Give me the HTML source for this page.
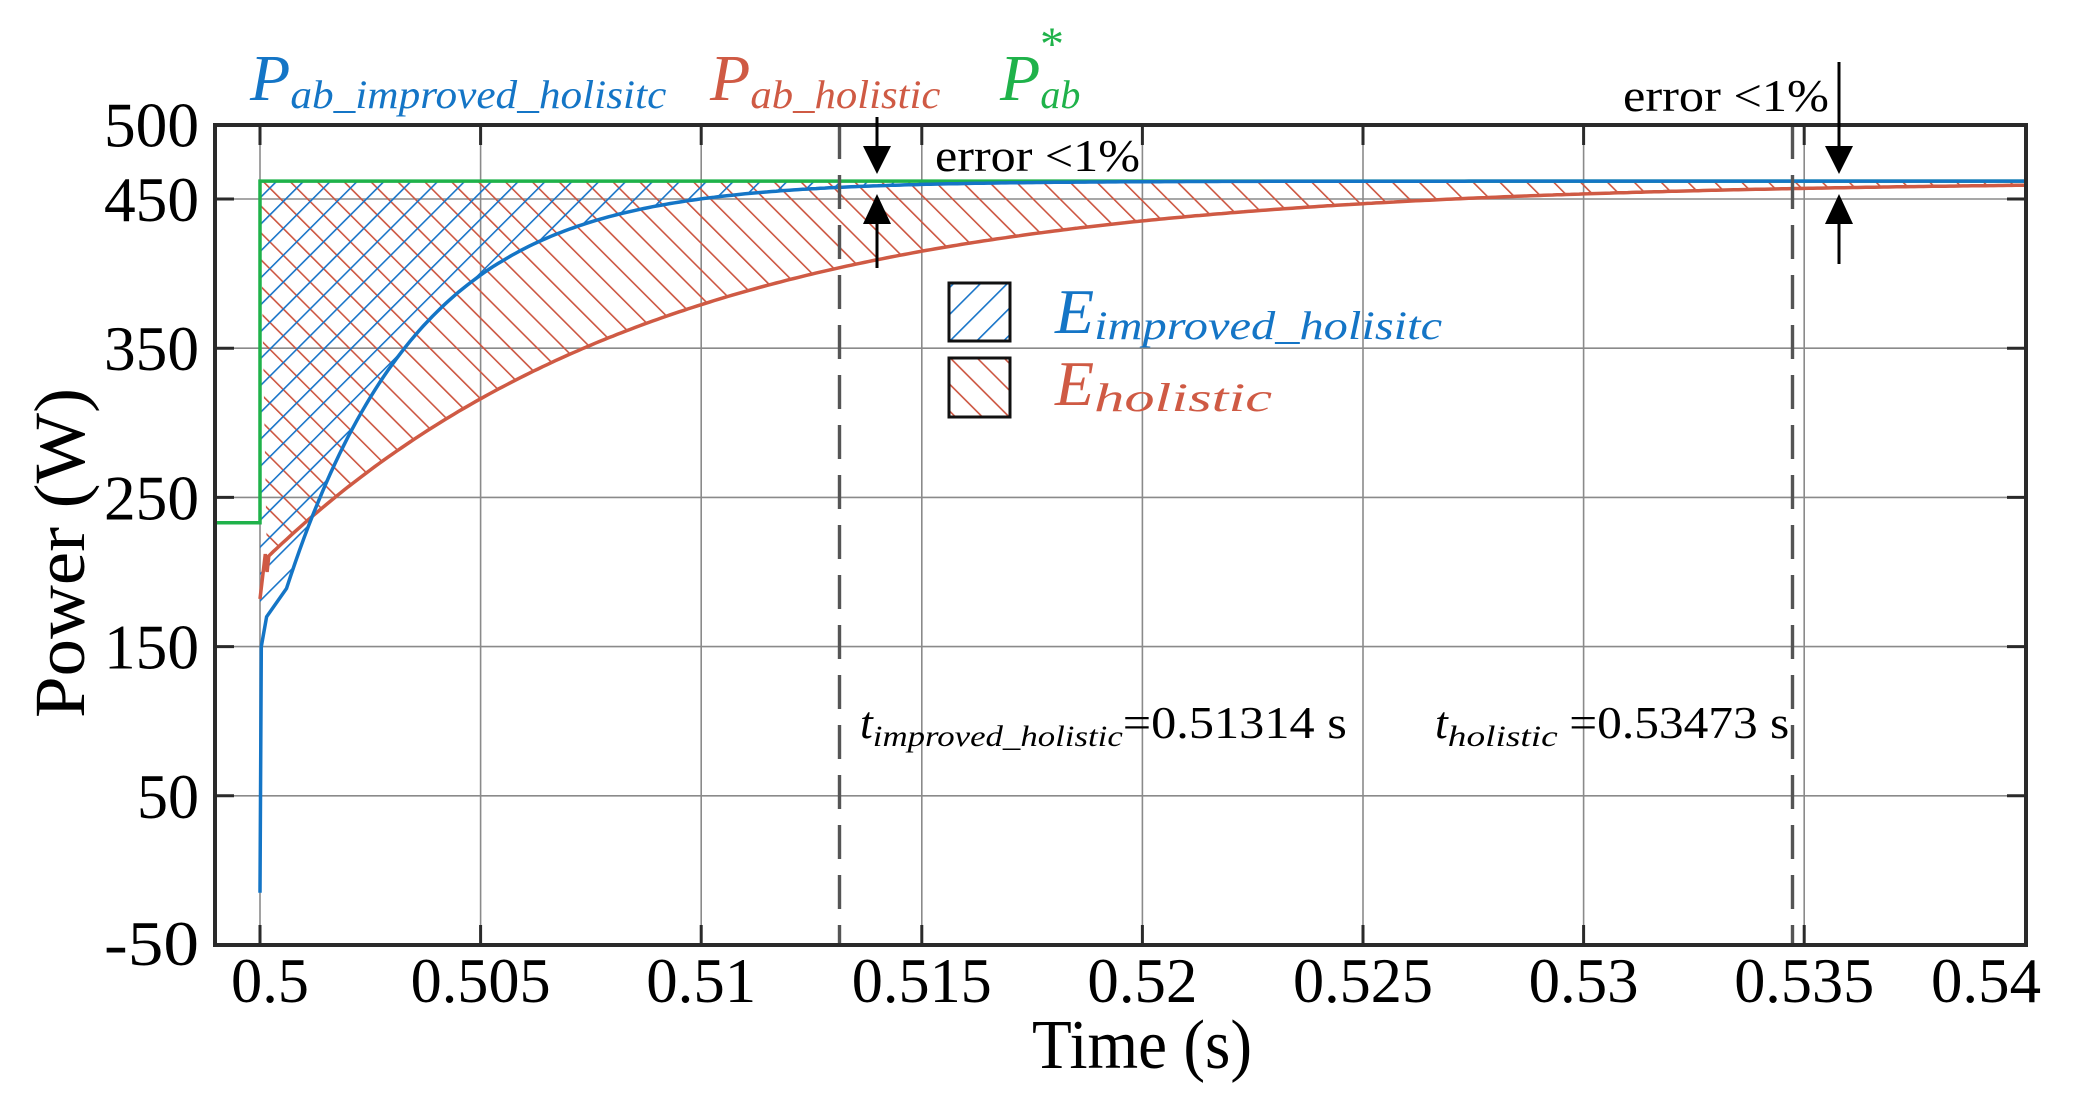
<!DOCTYPE html>
<html><head><meta charset="utf-8">
<style>
html,body{margin:0;padding:0;background:#fff;}
svg{display:block;}
text{font-family:"Liberation Serif","DejaVu Serif",serif;}
</style></head>
<body>
<svg id="s" width="2100" height="1104" viewBox="0 0 2100 1104" xmlns="http://www.w3.org/2000/svg">
<defs>
<pattern id="hb" patternUnits="userSpaceOnUse" width="19" height="19" patternTransform="rotate(45)">
<line x1="0" y1="0" x2="0" y2="19" stroke="#1874c8" stroke-width="3.2"/>
</pattern>
<pattern id="hr" patternUnits="userSpaceOnUse" width="19" height="19" patternTransform="rotate(-45)">
<line x1="0" y1="0" x2="0" y2="19" stroke="#cc5540" stroke-width="3.2"/>
</pattern>
<clipPath id="pc"><rect x="215" y="125" width="1811" height="820"/></clipPath>
</defs>
<g id="grid" stroke="#8a8a8a" stroke-width="1.6"></g>
<g clip-path="url(#pc)">
<path id="redArea" fill="url(#hr)" stroke="none"/>
<path id="blueArea" fill="url(#hb)" stroke="none"/>
<polyline id="green" fill="none" stroke="#1fb24a" stroke-width="3.5"/>
<polyline id="red" fill="none" stroke="#cf5a44" stroke-width="3.5"/>
<polyline id="blue" fill="none" stroke="#1475c6" stroke-width="3.5"/>
</g>
<line x1="839.5" y1="125" x2="839.5" y2="945" stroke="#555" stroke-width="3.4" stroke-dasharray="34,16"/>
<line x1="1792.5" y1="125" x2="1792.5" y2="945" stroke="#555" stroke-width="3.4" stroke-dasharray="34,16"/>
<g id="ticks" stroke="#2a2a2a" stroke-width="3"></g>
<rect x="215" y="125" width="1811" height="820" fill="none" stroke="#2a2a2a" stroke-width="4"/>
<g id="labels" font-size="64" fill="#000"></g>
<text x="1142" y="1068" font-size="70" text-anchor="middle" textLength="220" lengthAdjust="spacingAndGlyphs">Time (s)</text>
<text transform="translate(84,553) rotate(-90)" font-size="72" text-anchor="middle" textLength="330" lengthAdjust="spacingAndGlyphs">Power (W)</text>

<text x="250" y="100" fill="#1475c6" font-style="italic"><tspan font-size="66">P</tspan><tspan font-size="40" dy="8" textLength="376" lengthAdjust="spacingAndGlyphs">ab_improved_holisitc</tspan></text>
<text x="710" y="100" fill="#cf5a44" font-style="italic"><tspan font-size="66">P</tspan><tspan font-size="40" dy="8" textLength="190" lengthAdjust="spacingAndGlyphs">ab_holistic</tspan></text>
<text x="1000" y="100" fill="#1fb24a" font-style="italic"><tspan font-size="66">P</tspan><tspan font-size="40" dy="8">ab</tspan></text>
<text x="1040" y="60" fill="#1fb24a" font-size="48">*</text>

<rect x="949" y="283" width="61" height="58" fill="url(#hb)" stroke="#111" stroke-width="3"/>
<rect x="949" y="358" width="61" height="59" fill="url(#hr)" stroke="#111" stroke-width="3"/>
<text x="1055" y="333" fill="#1475c6" font-style="italic"><tspan font-size="64">E</tspan><tspan font-size="40" dy="6" textLength="348" lengthAdjust="spacingAndGlyphs">improved_holisitc</tspan></text>
<text x="1055" y="405" fill="#cf5a44" font-style="italic"><tspan font-size="64">E</tspan><tspan font-size="40" dy="6" textLength="178" lengthAdjust="spacingAndGlyphs">holistic</tspan></text>

<text x="935" y="171" font-size="46" textLength="205" lengthAdjust="spacingAndGlyphs">error &lt;1%</text>
<text x="1623" y="111" font-size="46" textLength="206" lengthAdjust="spacingAndGlyphs">error &lt;1%</text>
<g stroke="#000" stroke-width="3" fill="#000">
<line x1="877" y1="117" x2="877" y2="150"/>
<polygon points="863,146 891,146 877,174" stroke="none"/>
<line x1="877" y1="222" x2="877" y2="268"/>
<polygon points="863,224 891,224 877,194" stroke="none"/>
<line x1="1839" y1="62" x2="1839" y2="150"/>
<polygon points="1825,146 1853,146 1839,174" stroke="none"/>
<line x1="1839" y1="222" x2="1839" y2="264"/>
<polygon points="1825,224 1853,224 1839,194" stroke="none"/>
</g>

<text x="860" y="738" font-size="46"><tspan font-style="italic">t</tspan><tspan font-style="italic" font-size="30" dy="8" textLength="250" lengthAdjust="spacingAndGlyphs">improved_holistic</tspan><tspan dy="-8" textLength="224" lengthAdjust="spacingAndGlyphs">=0.51314 s</tspan></text>
<text x="1435" y="738" font-size="46"><tspan font-style="italic">t</tspan><tspan font-style="italic" font-size="30" dy="8" textLength="110" lengthAdjust="spacingAndGlyphs">holistic</tspan><tspan dy="-8"> </tspan><tspan textLength="220" lengthAdjust="spacingAndGlyphs">=0.53473 s</tspan></text>
</svg>
<script>
var X=function(t){return 260+(t-0.5)*44120;};
var Y=function(v){return 124.4+(500-v)*1.492;};
var NS="http://www.w3.org/2000/svg";
function el(p,n,a,txt){var e=document.createElementNS(NS,n);for(var k in a)e.setAttribute(k,a[k]);if(txt!==undefined)e.textContent=txt;p.appendChild(e);return e;}
var grid=document.getElementById('grid'),ticks=document.getElementById('ticks'),labels=document.getElementById('labels');
var xt=[0.5,0.505,0.51,0.515,0.52,0.525,0.53,0.535,0.54],xl=["0.5","0.505","0.51","0.515","0.52","0.525","0.53","0.535","0.54"];
xt.forEach(function(t,i){var x=X(t);
 if(i<xt.length-1){el(grid,'line',{x1:x,y1:125,x2:x,y2:945});
 el(ticks,'line',{x1:x,y1:945,x2:x,y2:925});el(ticks,'line',{x1:x,y1:125,x2:x,y2:145});}
 var w=xl[i].length==3?78:(xl[i].length==4?110:140);
 var a={x:x,y:1002,'text-anchor':'middle',textLength:w,lengthAdjust:'spacingAndGlyphs'};
 if(i==0)a.x=x+10;
 if(i==xt.length-1){a.x=2041;a['text-anchor']='end';}
 el(labels,'text',a,xl[i]);});
[450,350,250,150,50].forEach(function(v){var y=Y(v);el(grid,'line',{x1:215,y1:y,x2:2026,y2:y});
 el(ticks,'line',{x1:215,y1:y,x2:234,y2:y});el(ticks,'line',{x1:2026,y1:y,x2:2007,y2:y});});
[500,450,350,250,150,50,-50].forEach(function(v){var y=Y(v);if(v==-50)y=943;
 var s=String(v);el(labels,'text',{x:199,y:y+22,'text-anchor':'end',textLength:s.length==2?62:95,lengthAdjust:'spacingAndGlyphs'},s);});
var G=462;
function red(t){return G-257*Math.exp(-(t-0.5)/0.00883);}
function blue(t){return G-239*Math.exp(-(t-0.501)/0.003);}
var rp=[[X(0.5),Y(182)],[X(0.50012),Y(212)],[X(0.50016),Y(200)]],bp=[[X(0.5),Y(-15)],[X(0.50003),Y(150)],[X(0.00015+0.5),Y(170)]];
for(var t=0.5002;t<=0.5405;t+=0.0001){rp.push([X(t),Y(red(t))]);}
for(var t=0.0006+0.5;t<=0.5405;t+=0.0001){bp.push([X(t),Y(blue(t))]);}
function pts(a){return a.map(function(p){return p[0].toFixed(1)+","+p[1].toFixed(1);}).join(" ");}
document.getElementById('red').setAttribute('points',pts(rp));
document.getElementById('blue').setAttribute('points',pts(bp));
document.getElementById('green').setAttribute('points',X(0.4985)+","+Y(233)+" "+X(0.5)+","+Y(233)+" "+X(0.5)+","+Y(G)+" "+X(0.541)+","+Y(G));
var ra="M"+X(0.5)+","+Y(G)+" L"+X(0.541)+","+Y(G)+" L"+pts(rp.slice(2).reverse()).replace(/ /g," L")+" Z";
document.getElementById('redArea').setAttribute('d',ra);
var bb=bp.filter(function(p){return p[1]>=0;});
var ba="M"+X(0.5)+","+Y(G)+" L"+X(0.541)+","+Y(G)+" L"+pts(bb.slice(2).reverse()).replace(/ /g," L")+" L"+X(0.5)+","+Y(170)+" Z";
document.getElementById('blueArea').setAttribute('d',ba);
</script>
</body></html>
